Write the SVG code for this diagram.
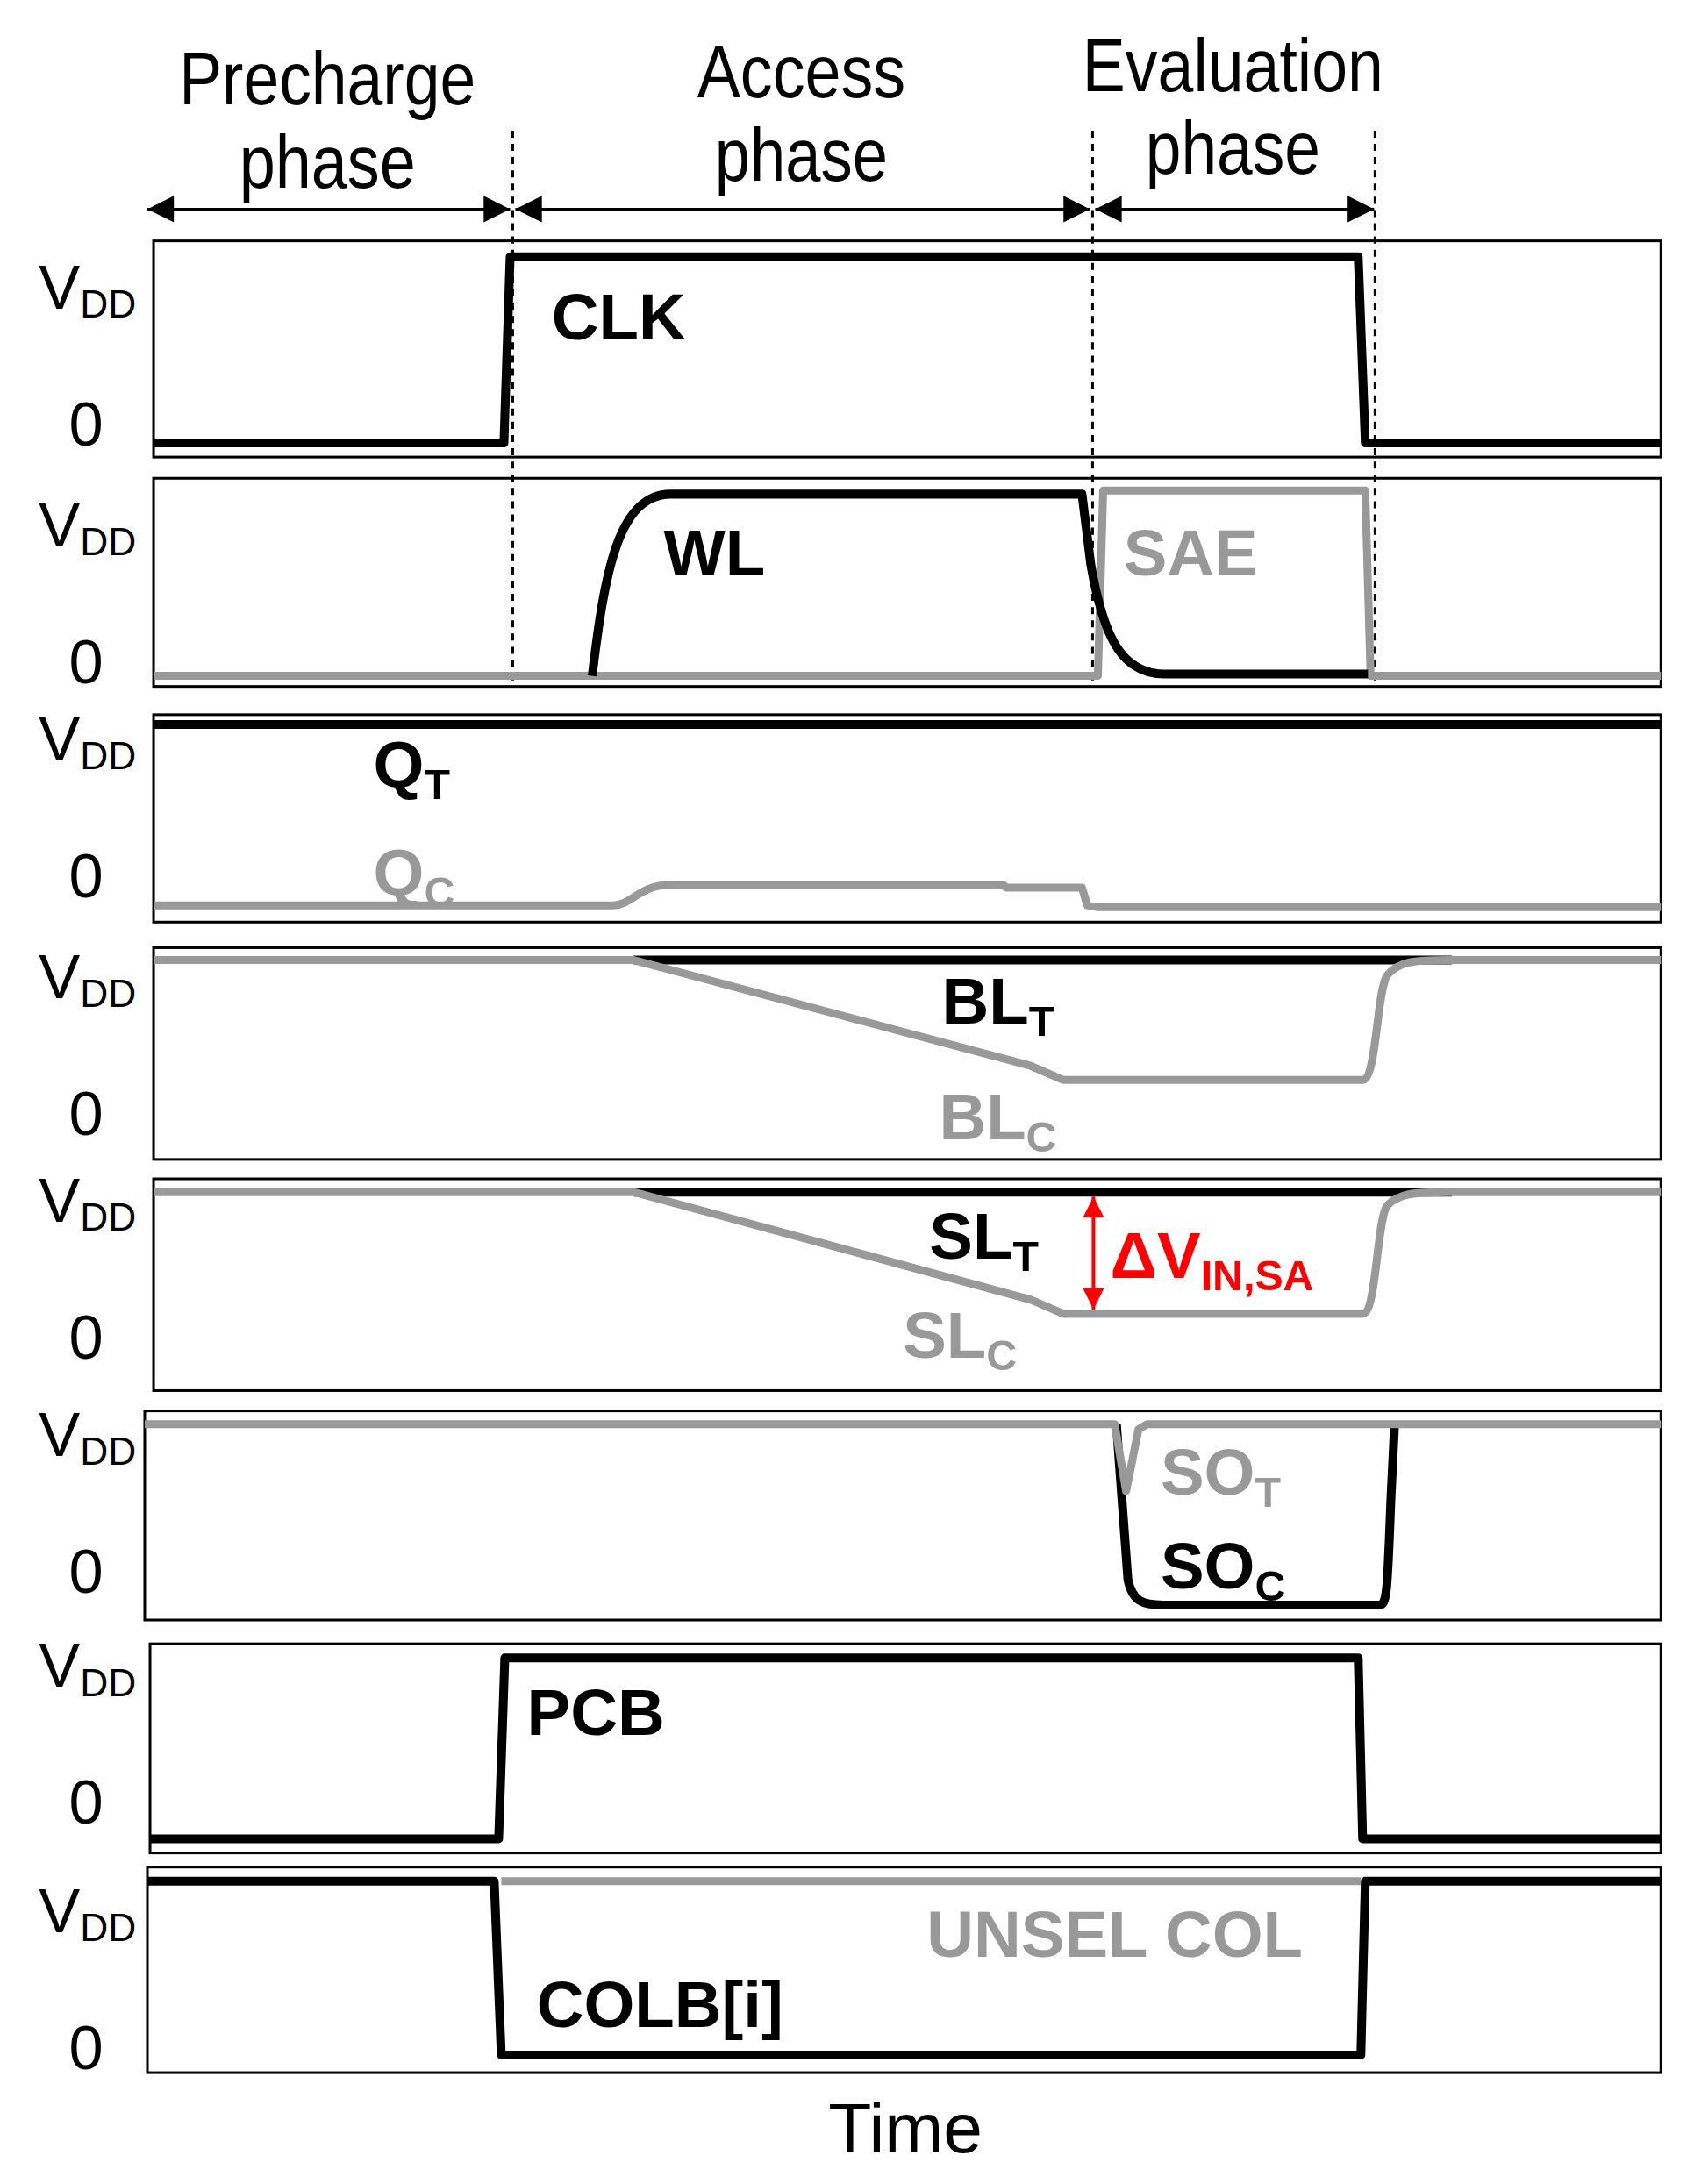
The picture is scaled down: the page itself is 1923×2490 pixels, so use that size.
<svg xmlns="http://www.w3.org/2000/svg" width="1923" height="2490" viewBox="0 0 1923 2490">
<style>
.hd{font-family:"Liberation Sans",Arial,sans-serif;font-size:84px;fill:#000}
.ax{font-family:"Liberation Sans",Arial,sans-serif;font-size:70px;fill:#000}
.ax tspan.s{font-size:44px}
.lb{font-family:"Liberation Sans",Arial,sans-serif;font-weight:bold;font-size:74px;fill:#000}
.lb tspan.s{font-size:48px}
.g{fill:#999}
.r{fill:#f00}
.pn{fill:#fff;stroke:#000;stroke-width:3}
.k{fill:none;stroke:#000;stroke-width:10;stroke-linejoin:round}
.gr{fill:none;stroke:#999;stroke-width:9;stroke-linejoin:round}
.dot{stroke:#000;stroke-width:3;stroke-dasharray:8 7}
</style>
<defs>
<marker id="ahb" viewBox="0 0 10 10" refX="10" refY="5" markerWidth="36" markerHeight="30" orient="auto-start-reverse" markerUnits="userSpaceOnUse"><path d="M0,0 L10,5 L0,10 z" fill="#000"/></marker>
<marker id="ahr" viewBox="0 0 10 10" refX="10" refY="5" markerWidth="40" markerHeight="24" orient="auto-start-reverse" markerUnits="userSpaceOnUse"><path d="M0,0 L10,5 L0,10 z" fill="#f00"/></marker>
</defs>
<g transform="scale(1.006)">
<g id="headers">
<text class="hd" x="371" y="118" text-anchor="middle" textLength="336" lengthAdjust="spacingAndGlyphs">Precharge</text>
<text class="hd" x="371" y="213" text-anchor="middle" textLength="200" lengthAdjust="spacingAndGlyphs">phase</text>
<text class="hd" x="908" y="110" text-anchor="middle" textLength="236" lengthAdjust="spacingAndGlyphs">Access</text>
<text class="hd" x="908" y="205" text-anchor="middle" textLength="196" lengthAdjust="spacingAndGlyphs">phase</text>
<text class="hd" x="1397" y="103" text-anchor="middle" textLength="341" lengthAdjust="spacingAndGlyphs">Evaluation</text>
<text class="hd" x="1397" y="197" text-anchor="middle" textLength="198" lengthAdjust="spacingAndGlyphs">phase</text>
</g>

<g id="panels">
<rect class="pn" x="174" y="273" width="1708" height="245"/>
<rect class="pn" x="174" y="542" width="1708" height="236"/>
<rect class="pn" x="174" y="810" width="1708" height="235"/>
<rect class="pn" x="174" y="1074" width="1708" height="240"/>
<rect class="pn" x="174" y="1336" width="1708" height="240"/>
<rect class="pn" x="164" y="1599" width="1718" height="237"/>
<rect class="pn" x="170" y="1863" width="1712" height="237"/>
<rect class="pn" x="167" y="2116" width="1715" height="233"/>
</g>

<g id="axis-labels">
<text class="ax" x="44" y="350">V<tspan class="s" dy="10">DD</tspan></text><text class="ax" x="78" y="505">0</text>
<text class="ax" x="44" y="619">V<tspan class="s" dy="10">DD</tspan></text><text class="ax" x="78" y="774">0</text>
<text class="ax" x="44" y="862">V<tspan class="s" dy="10">DD</tspan></text><text class="ax" x="78" y="1017">0</text>
<text class="ax" x="44" y="1131">V<tspan class="s" dy="10">DD</tspan></text><text class="ax" x="78" y="1286">0</text>
<text class="ax" x="44" y="1385">V<tspan class="s" dy="10">DD</tspan></text><text class="ax" x="78" y="1540">0</text>
<text class="ax" x="44" y="1650">V<tspan class="s" dy="10">DD</tspan></text><text class="ax" x="78" y="1805">0</text>
<text class="ax" x="44" y="1912">V<tspan class="s" dy="10">DD</tspan></text><text class="ax" x="78" y="2067">0</text>
<text class="ax" x="44" y="2190">V<tspan class="s" dy="10">DD</tspan></text><text class="ax" x="78" y="2345">0</text>
<text class="ax" x="1026" y="2439" text-anchor="middle" style="font-size:80px">Time</text>
</g>

<g id="connectors">
<line class="dot" x1="581" y1="148" x2="581" y2="778"/>
<line class="dot" x1="1238" y1="148" x2="1238" y2="778"/>
<line class="dot" x1="1558" y1="148" x2="1558" y2="778"/>
<line x1="167" y1="237" x2="578" y2="237" stroke="#000" stroke-width="3" marker-start="url(#ahb)" marker-end="url(#ahb)"/>
<line x1="584" y1="237" x2="1235" y2="237" stroke="#000" stroke-width="3" marker-start="url(#ahb)" marker-end="url(#ahb)"/>
<line x1="1241" y1="237" x2="1557" y2="237" stroke="#000" stroke-width="3" marker-start="url(#ahb)" marker-end="url(#ahb)"/>
</g>

<g id="CLK">
<path class="k" d="M174,502 L571,502 L578,291 L1539,291 L1547,502 L1882,502"/>
<text class="lb" x="625" y="385">CLK</text>
</g>

<g id="WL-SAE">
<path class="gr" d="M174,766 L1244,766 L1250,556 L1547,556 L1553,766 L1882,766"/>
<path class="k" d="M671,766 C685,650 700,560 760,560 L1226,560 L1236,640 C1250,720 1270,764 1320,764 L1550,764"/>
<text class="lb" x="752" y="652">WL</text>
<text class="lb g" x="1273" y="652">SAE</text>
</g>

<g id="Q">
<line x1="174" y1="821" x2="1882" y2="821" stroke="#000" stroke-width="10"/>
<path class="gr" d="M174,1026 L695,1026 C715,1026 725,1003 758,1003 L1137,1003 L1140,1006 L1226,1006 L1232,1026 L1244,1028 L1882,1028"/>
<text class="lb" x="423" y="892">Q<tspan class="s" dy="14">T</tspan></text>
<text class="lb g" x="423" y="1014">Q<tspan class="s" dy="14">C</tspan></text>
</g>

<g id="BL">
<line x1="718" y1="1088" x2="1645" y2="1088" stroke="#000" stroke-width="10"/>
<path class="gr" d="M174,1088 L718,1088 L1168,1208 L1205,1224 L1544,1224 C1560,1224 1560,1120 1572,1105 C1585,1090 1600,1088 1642,1088 L1882,1088"/>
<text class="lb" x="1067" y="1160">BL<tspan class="s" dy="14">T</tspan></text>
<text class="lb g" x="1064" y="1291">BL<tspan class="s" dy="14">C</tspan></text>
</g>

<g id="SL">
<line x1="718" y1="1351" x2="1645" y2="1351" stroke="#000" stroke-width="10"/>
<path class="gr" d="M174,1351 L718,1351 L1168,1473 L1205,1489 L1544,1489 C1560,1489 1560,1380 1572,1366 C1585,1353 1600,1351 1642,1351 L1882,1351"/>
<line x1="1239" y1="1356" x2="1239" y2="1484" stroke="#f00" stroke-width="4" marker-start="url(#ahr)" marker-end="url(#ahr)"/>
<text class="lb" x="1053" y="1426">SL<tspan class="s" dy="14">T</tspan></text>
<text class="lb g" x="1023" y="1539">SL<tspan class="s" dy="14">C</tspan></text>
<text class="lb r" x="1258" y="1448">ΔV<tspan class="s" dy="14">IN,SA</tspan></text>
</g>

<g id="SO">
<path class="k" d="M1265,1614 L1278,1790 C1283,1815 1295,1819 1318,1819 L1563,1819 C1572,1819 1572,1800 1576,1700 L1580,1618"/>
<path class="gr" d="M164,1614 L1263,1614 L1276,1690 L1290,1620 L1300,1614 L1882,1614"/>
<text class="lb g" x="1315" y="1694">SO<tspan class="s" dy="14">T</tspan></text>
<text class="lb" x="1315" y="1800">SO<tspan class="s" dy="14">C</tspan></text>
</g>

<g id="PCB">
<path class="k" d="M170,2084 L565,2084 L572,1879 L1539,1879 L1544,2084 L1882,2084"/>
<text class="lb" x="597" y="1966">PCB</text>
</g>

<g id="COLB">
<line x1="568" y1="2132" x2="1542" y2="2132" stroke="#999" stroke-width="9"/>
<path class="k" d="M167,2132 L560,2132 L568,2329 L1542,2329 L1547,2132 L1882,2132"/>
<text class="lb g" x="1050" y="2218">UNSEL COL</text>
<text class="lb" x="608" y="2297">COLB[i]</text>
</g>
</g>
</svg>
